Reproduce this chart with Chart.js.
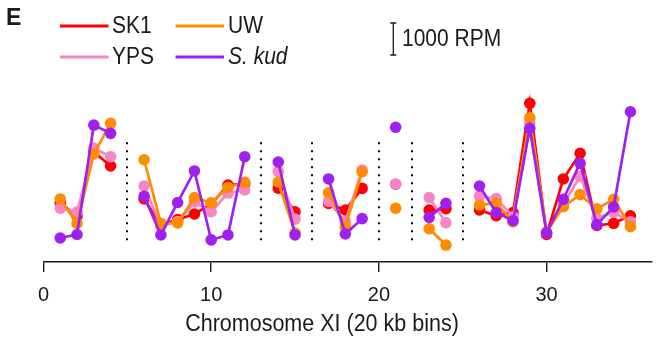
<!DOCTYPE html>
<html><head><meta charset="utf-8">
<script src="https://cdn.jsdelivr.net/npm/chart.js@4"></script>
<style>html,body{margin:0;padding:0;background:#fff;}canvas{display:block}</style>
</head><body>
<canvas id="c" width="657" height="341"></canvas>
<script>
// ---- data (RPM, 20 kb bins on chromosome XI) ----
const bins = Array.from({length: 35}, (_, i) => i + 1);
const SK1  = [1845,1440,3440,3000,null,1970,1155,1330,1500,1810,2405,2440,null,2310,1570,null,1830,1625,2300,null,2430,null,1625,1665,null,1625,1445,1545,4960,860,2595,3395,1140,1210,1445];
const YPS  = [1680,1560,3560,3290,null,2375,1125,1265,1875,1570,2155,2250,null,2835,1340,null,1895,1260,2875,null,2430,null,2015,1230,null,2060,1980,1415,4345,915,1810,2670,1365,1555,1260];
const UW   = [1970,1205,3375,4335,null,3195,1210,1220,2015,1850,2330,2490,null,2500,905,null,2165,1105,2820,null,1680,null,1040,530,null,1780,1835,1260,4510,945,1730,2105,1660,1960,1105];
const SKUD = [750,860,4280,4020,null,2055,845,1860,2845,690,845,3290,null,3125,845,null,2595,875,1355,null,4210,null,1395,1835,null,2375,1545,1290,4180,905,1960,3085,1170,1720,4695];
const gapBins = [5, 13, 16, 20, 22, 25];
const xTicks = [0, 10, 20, 30];
const seriesNames = ['SK1', 'UW', 'YPS', 'S. kud'];
const scaleBarRPM = 1000;
const xTitle = 'Chromosome XI (20 kb bins)';
const panelLabel = 'E';

const COLORS = {SK1: '#ff0000', UW: '#ff8c00', YPS: '#f785c4', SKUD: '#a020f0'};
const FONT = "'Liberation Sans', Arial, Helvetica, sans-serif";
const TXT = '#1a1a1a';
const SY = 1.12;

function mk(label, data, color, order) {
  return {label, data: bins.map((b, i) => ({x: b, y: data[i]})), borderColor: color, backgroundColor: color,
    borderWidth: 2.7, pointRadius: 5.8, pointHoverRadius: 5.8, pointBorderWidth: 0,
    pointBackgroundColor: color, spanGaps: false, order, tension: 0};
}

function sText(ctx, t, x, y, font, align) {
  ctx.save(); ctx.translate(x, y); ctx.scale(1, SY);
  ctx.font = font; ctx.textAlign = align || 'left'; ctx.textBaseline = 'middle'; ctx.fillStyle = TXT;
  ctx.fillText(t, 0, 0); ctx.restore();
}

const decor = {
  id: 'decor',
  beforeDatasetsDraw(chart) {
    const ctx = chart.ctx, xs = chart.scales.x, ys = chart.scales.y;
    const yTop = ys.getPixelForValue(3740), yBot = ys.getPixelForValue(650);
    ctx.save();
    ctx.strokeStyle = '#000'; ctx.lineWidth = 2; ctx.setLineDash([2, 6]);
    gapBins.forEach(g => {
      const px = Math.round(xs.getPixelForValue(g));
      ctx.beginPath(); ctx.moveTo(px, yTop); ctx.lineTo(px, yBot); ctx.stroke();
    });
    ctx.restore();
  },
  afterDraw(chart) {
    const ctx = chart.ctx, ys = chart.scales.y;
    // panel label
    ctx.save(); ctx.font = 'bold 23px ' + FONT; ctx.fillStyle = TXT; ctx.textBaseline = 'middle';
    ctx.fillText(panelLabel, 6, 19); ctx.restore();
    // legend
    const ds = chart.data.datasets;
    const items = [
      {i: 0, lx: 60, tx: 112, y: 26},
      {i: 2, lx: 175.5, tx: 228, y: 26},
      {i: 1, lx: 60, tx: 112, y: 57},
      {i: 3, lx: 175.5, tx: 228, y: 57}
    ];
    items.forEach(it => {
      ctx.save(); ctx.strokeStyle = ds[it.i].borderColor; ctx.lineWidth = 2.8;
      ctx.beginPath(); ctx.moveTo(it.lx, it.y); ctx.lineTo(it.lx + 48.5, it.y); ctx.stroke(); ctx.restore();
      const italic = it.i === 3 ? 'italic ' : '';
      sText(ctx, ds[it.i].label, it.tx, it.y + 0.8, italic + '21px ' + FONT);
    });
    // scale bar
    const len = ys.getPixelForValue(0) - ys.getPixelForValue(scaleBarRPM);
    const bx = 393.3, bc = 39;
    ctx.save(); ctx.strokeStyle = TXT; ctx.lineWidth = 1.3;
    ctx.beginPath();
    ctx.moveTo(bx, bc - len / 2); ctx.lineTo(bx, bc + len / 2);
    ctx.moveTo(bx - 3, bc - len / 2); ctx.lineTo(bx + 3, bc - len / 2);
    ctx.moveTo(bx - 3, bc + len / 2); ctx.lineTo(bx + 3, bc + len / 2);
    ctx.stroke(); ctx.restore();
    sText(ctx, scaleBarRPM + ' RPM', 402, 40, '21px ' + FONT);
    // x title
    sText(ctx, xTitle, 322, 324, '21.5px ' + FONT, 'center');
  }
};

new Chart(document.getElementById('c'), {
  type: 'line',
  data: {datasets: [
    mk(seriesNames[0], SK1, COLORS.SK1, 3),
    mk(seriesNames[2], YPS, COLORS.YPS, 2),
    mk(seriesNames[1], UW, COLORS.UW, 1),
    mk(seriesNames[3], SKUD, COLORS.SKUD, 0)
  ]},
  options: {
    responsive: false, animation: false,
    layout: {padding: {top: 90, left: 43.5, right: 0, bottom: 0}},
    plugins: {legend: {display: false}, tooltip: {enabled: false}, title: {display: false}},
    scales: {
      x: {type: 'linear', min: 0, max: 36.24,
        afterBuildTicks: a => { a.ticks = xTicks.map(v => ({value: v})); },
        afterFit: a => { a.height = 79; },
        border: {display: true, color: TXT, width: 1.4},
        grid: {drawOnChartArea: false, drawTicks: true, tickLength: 10, color: TXT, lineWidth: 1.4},
        ticks: {color: TXT, font: {family: FONT, size: 20}, padding: 11, maxRotation: 0, autoSkip: false}
      },
      y: {display: false, min: 0, max: 5375}
    }
  },
  plugins: [decor]
});
</script>
</body></html>
